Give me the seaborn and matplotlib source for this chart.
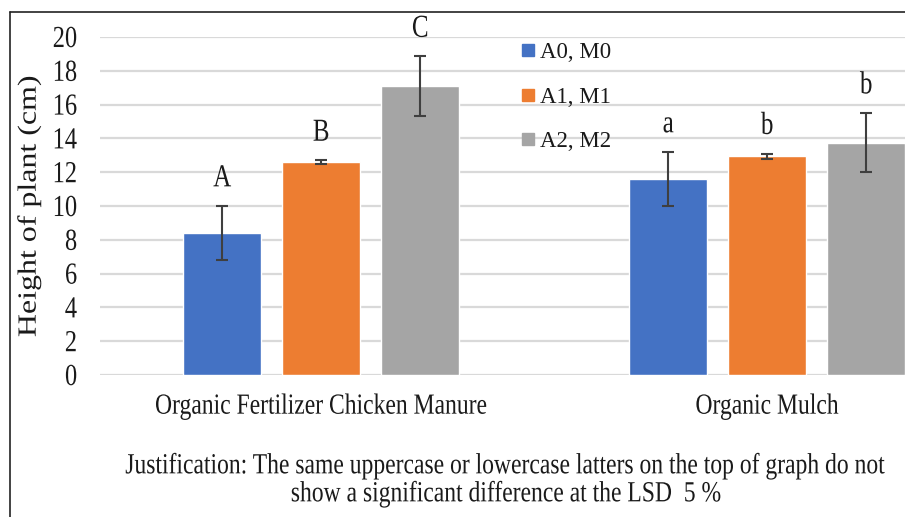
import matplotlib
matplotlib.use("Agg")
import matplotlib.pyplot as plt
import matplotlib.lines as mlines
import matplotlib.patheffects as pe
from matplotlib.transforms import Affine2D
import seaborn as sns
import pandas as pd

# Data
groups = ["Organic Fertilizer Chicken Manure", "Organic Mulch"]
treatments = ["A0, M0", "A1, M1", "A2, M2"]
heights_fertilizer = [8.4, 12.6, 17.1]
heights_mulch = [11.6, 12.95, 13.75]
err_fertilizer = [1.6, 0.1, 1.75]
err_mulch = [1.6, 0.15, 1.75]
letters_fertilizer = ["A", "B", "C"]
letters_mulch = ["a", "b", "b"]
yticks = [0, 2, 4, 6, 8, 10, 12, 14, 16, 18, 20]

colors = ["#4472C4", "#ED7D31", "#A5A5A5"]


class Stretch(pe.AbstractPathEffect):
    """Rescale text glyphs along their local axes around the cap-height middle."""

    def __init__(self, sx=1.0, sy=1.0):
        super().__init__()
        self.sx, self.sy = sx, sy

    def draw_path(self, renderer, gc, tpath, affine, rgbFace=None):
        mid = 33.0  # half cap height, in text-path units (100 per em)
        tr = (Affine2D().translate(0, -mid).scale(self.sx, self.sy)
              .translate(0, mid) + affine)
        renderer.draw_path(gc, tpath, tr, rgbFace)


df = pd.DataFrame({
    "group": [groups[0]] * 3 + [groups[1]] * 3,
    "treatment": treatments * 2,
    "height": heights_fertilizer + heights_mulch,
})
errs = err_fertilizer + err_mulch
letters = letters_fertilizer + letters_mulch

sns.set_style("white")
plt.rcParams["font.family"] = ["Liberation Serif", "DejaVu Serif"]
ink = "#1a1a1a"

fig = plt.figure(figsize=(9.05, 5.17), dpi=100)
ax = fig.add_axes([100 / 905, 1 - 375 / 517, 1 - 100 / 905, (375 - 37) / 517])

sns.barplot(data=df, x="group", y="height", hue="treatment",
            hue_order=treatments, order=groups, palette=colors,
            width=0.666, gap=0.21, errorbar=None, saturation=1,
            legend=False, ax=ax, zorder=3)

# Error bars and significance letters on each bar
bars = sorted(ax.patches, key=lambda p: p.get_x())
for bar, h, e, lab in zip(bars, df["height"], errs, letters):
    cx = bar.get_x() + bar.get_width() / 2
    ax.errorbar(cx, h, yerr=e, fmt="none", ecolor="#3f3f3f",
                elinewidth=1.5, capsize=4, capthick=1.5, zorder=4)
    ax.text(cx, h + e + 1.3, lab, ha="center", va="baseline",
            fontsize=18, color=ink, path_effects=[Stretch(1.0, 1.28)])

ax.set_ylim(0, 20)
ax.set_xlim(-0.496, 1.309)
ax.set_yticks(yticks)
ax.set_yticklabels([str(t) for t in yticks], fontsize=17.6, color=ink)
ax.tick_params(axis="y", length=0, pad=16.5)
ax.tick_params(axis="x", length=0, pad=15, labelsize=17, labelcolor=ink)
for t in ax.get_yticklabels():
    t.set_path_effects([Stretch(1.0, 1.25)])
for t in ax.get_xticklabels():
    t.set_path_effects([Stretch(1.0, 1.235)])
ax.yaxis.grid(True, color="#d9d9d9", linewidth=1.6, zorder=0)
ax.set_axisbelow(True)
for s in ax.spines.values():
    s.set_visible(False)
ax.set_xlabel("")
ax.set_ylabel("")

fig.text(30 / 905, 1 - 206 / 517, "Height of plant (cm)", rotation=90,
         ha="center", va="center", fontsize=23, color=ink,
         path_effects=[Stretch(1.0, 0.82)])

# Legend
handles = [mlines.Line2D([], [], marker="s", linestyle="none", markersize=8.5,
                         markerfacecolor=c, markeredgecolor=c) for c in colors]
ax.legend(handles, treatments, loc="upper left",
          bbox_to_anchor=((511 - 100) / 805, (375 - 33) / 338),
          frameon=False, fontsize=16.5, handlelength=0.7, handletextpad=0.15,
          labelspacing=1.02, borderaxespad=0, labelcolor=ink)

# Note under the chart
note_fx = [Stretch(1.0, 1.235)]
fig.text(505 / 905, 1 - 466 / 517,
         "Justification: The same uppercase or lowercase latters on the top of graph do not",
         ha="center", va="center", fontsize=17, color=ink, path_effects=note_fx)
fig.text(506 / 905, 1 - 494 / 517,
         "show a significant difference at the LSD  5 %",
         ha="center", va="center", fontsize=17, color=ink, path_effects=note_fx)

# Frame lines
fig.add_artist(mlines.Line2D([10 / 905, 10 / 905], [0, 1 - 12 / 517],
                             color="#222222", linewidth=1.2,
                             transform=fig.transFigure))
fig.add_artist(mlines.Line2D([10 / 905, 1], [1 - 12 / 517, 1 - 12 / 517],
                             color="#222222", linewidth=1.2,
                             transform=fig.transFigure))

fig.savefig("out.png", dpi=100)
